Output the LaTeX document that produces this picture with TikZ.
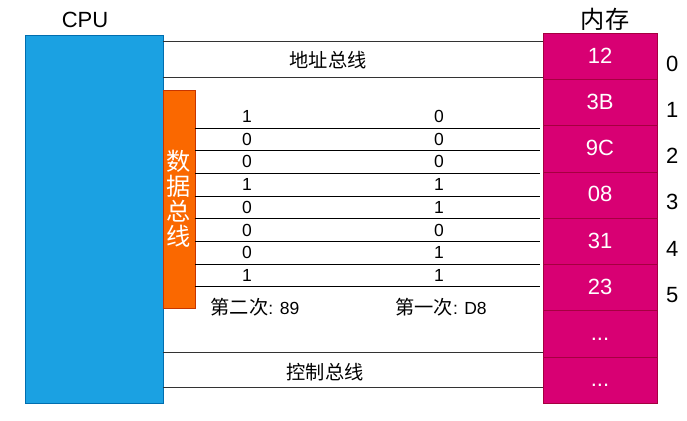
\documentclass[tikz,border=0pt]{standalone}
\usepackage{fontspec}
\usetikzlibrary{calc}
\setmainfont{Liberation Sans}
\newfontfamily\cjk[Scale=1.1]{Noto Sans CJK SC}
\definecolor{cpufill}{HTML}{1BA1E2}
\definecolor{cpuline}{HTML}{006EAF}
\definecolor{dbfill}{HTML}{FA6800}
\definecolor{dbline}{HTML}{C73500}
\definecolor{memfill}{HTML}{D80073}
\definecolor{memline}{HTML}{A50040}
\newcommand{\bigtxt}{\fontsize{22}{25}\selectfont}
\newcommand{\smalltxt}{\fontsize{17.5}{20}\selectfont}
\newcommand{\moredots}{...}
\tikzset{
    cpubox/.style={draw=cpuline, fill=cpufill, inner sep=0pt, minimum width=138pt, minimum height=368pt},
    dbbox/.style={draw=dbline, fill=dbfill, inner sep=0pt, minimum width=32pt, minimum height=218pt},
    cell/.style={draw=memline, fill=memfill, inner sep=0pt, minimum width=114pt, minimum height=46.25pt,
        text=white, font=\bigtxt, text height=16pt, text depth=2pt},
    bus/.style={draw=black!80, line width=1pt},
    wire/.style={draw=black, line width=1pt},
    lbl/.style={font=\smalltxt, inner sep=1pt}
}
\begin{document}
\begin{tikzpicture}[x=1pt, y=-1pt]
    \useasboundingbox (0,0) rectangle (687,420);

    % CPU
    \node[cpubox] (cpu) at (94,219) {};
    \node[font=\bigtxt] (cputitle) at (85,20) {CPU};

    % Data bus box
    \node[dbbox] (db) at (179,199) {};
    \node[font=\bigtxt\cjk, text=white, align=center] (dbtext) at (db.center) {数\\据\\总\\线};

    % Memory cells
    \node[font=\bigtxt\cjk] (memtitle) at (605,19) {内存};
    \foreach \v [count=\i from 0] in {12,3B,9C,08,31,23,\moredots,\moredots} {
        \node[cell] (m\i) at (600,56.1+46.25*\i) {\v};
    }
    \foreach \i in {0,...,5} {
        \node[font=\bigtxt] (a\i) at ($(m\i.east)+(15,7.5)$) {\i};
    }

    % Address bus
    \draw[bus] (cpu.east |- 0,42) -- (m0.west |- 0,42);
    \draw[bus] (cpu.east |- 0,77) -- (m0.west |- 0,77);
    \node[lbl] (addr) at (328,60) {\cjk 地址总线};

    % Data bus wires with bits
    \foreach \l/\r [count=\i from 0] in {1/0,0/0,0/0,1/1,0/1,0/0,0/1,1/1} {
        \coordinate (w\i) at (540,128+22.7*\i);
        \draw[wire] (db.east |- w\i) -- (w\i);
        \node[lbl] (lb\i) at (247,116.5+22.7*\i) {\l};
        \node[lbl] (rb\i) at (439,116.5+22.7*\i) {\r};
    }
    \node[lbl] (second) at (255,307) {{\cjk 第二次}: 89};
    \node[lbl] (first) at (441,307) {{\cjk 第一次}: D8};

    % Control bus
    \draw[bus] (cpu.east |- 0,352) -- (m7.west |- 0,352);
    \draw[bus] (cpu.east |- 0,387) -- (m7.west |- 0,387);
    \node[lbl] (ctrl) at (325,372) {\cjk 控制总线};
\end{tikzpicture}
\end{document}
